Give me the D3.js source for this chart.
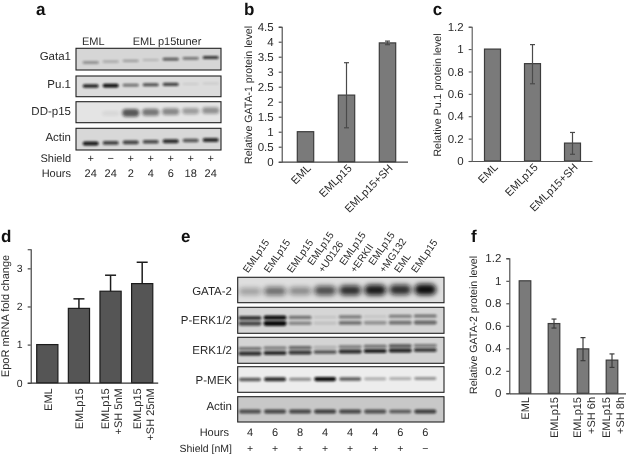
<!DOCTYPE html>
<html><head><meta charset="utf-8">
<script src="https://cdn.jsdelivr.net/npm/d3@7"></script>
<style>
html,body{margin:0;padding:0;background:#fff}
svg{display:block;filter:blur(0.35px)}
text{font-family:"Liberation Sans",Arial,sans-serif;fill:#2a2a2a;text-rendering:geometricPrecision}
</style></head><body>
<svg id="c" width="626" height="454"></svg>
<script>
// ---- data ----
const catsB = ["EML","EMLp15","EMLp15+SH"];
const valsB = [1,2.22,3.96];
const lowB  = [null,1.13,3.9];
const highB = [null,3.3,4.02];
const ticksB = [0,0.5,1,1.5,2,2.5,3,3.5,4,4.5];

const catsC = ["EML","EMLp15","EMLp15+SH"];
const valsC = [1,0.87,0.16];
const lowC  = [null,0.69,0.06];
const highC = [null,1.04,0.255];
const ticksC = [0,0.2,0.4,0.6,0.8,1,1.2];

const catsD = [["EML"],["EMLp15"],["EMLp15","+SH 5nM"],["EMLp15","+SH 25nM"]];
const valsD = [1,1.95,2.4,2.6];
const highD = [null,2.2,2.82,3.16];
const ticksD = [0,1,2,3];

const catsF = [["EML"],["EMLp15"],["EMLp15","+SH 6h"],["EMLp15","+SH 8h"]];
const valsF = [1,0.62,0.395,0.295];
const lowF  = [null,0.58,0.29,0.23];
const highF = [null,0.66,0.495,0.35];
const ticksF = [0,0.2,0.4,0.6,0.8,1,1.2];

const shieldA = ["+","\u2212","+","+","+","+","+"];
const hoursA  = ["24","24","2","4","6","18","24"];
const gata1A  = [0.4,0.25,0.3,0.18,0.65,0.5,0.8];
const pu1A    = [0.9,1,0.55,0.7,0.75,0.08,0.08];
const ddp15A  = [0,0.06,0.65,0.5,0.42,0.32,0.38];
const actinA  = [0.95,0.75,0.75,0.72,0.85,0.65,0.85];

const lanesE = [["EMLp15"],["EMLp15"],["EMLp15"],["EMLp15","+U0126"],["EMLp15","+ERKII"],["EMLp15","+MG132"],["EML"],["EMLp15"]];
const hoursE  = ["4","6","8","4","4","4","6","6"];
const shieldE = ["+","+","+","+","+","+","+","\u2212"];
const gata2E  = [0.3,0.55,0.42,0.7,0.85,0.95,0.85,1];
const perkTopE = [0.8,1,0.5,0.1,0.45,0.1,0.45,0.5];
const perkBotE = [0.7,1,0.4,0.12,0.5,0.35,0.5,0.55];
const erkTopE = [0.5,0.45,0.55,0.2,0.45,0.5,0.65,0.45];
const erkBotE = [0.85,0.85,0.8,0.65,0.85,0.9,0.9,0.75];
const pmekE   = [0.65,0.85,0.45,1,0.65,0.3,0.3,0.4];
const actinE  = [0.65,0.7,0.7,0.75,0.7,0.65,0.6,0.75];

// ---- drawing ----
const svg = d3.select("#c");
const defs = svg.append("defs");
[["b1",0.9],["b2",1.5],["b3",2.4]].forEach(([id,s])=>{
  defs.append("filter").attr("id",id).attr("x","-30%").attr("y","-150%").attr("width","160%").attr("height","400%")
    .append("feGaussianBlur").attr("stdDeviation",s);
});
const fs = 11;

function letter(t,x,y){svg.append("text").text(t).attr("x",x).attr("y",y).attr("font-size",17).attr("font-weight","bold").style("fill","#111");}

function barChart(o){
  const g = svg.append("g");
  const y = d3.scaleLinear().domain([0,o.yMax]).range([o.y0,o.y1]);
  const x = d3.scaleBand().domain(d3.range(o.vals.length)).range(o.xr).paddingInner(o.pad).paddingOuter(o.pad/2);
  const ax = d3.axisLeft(y).tickValues(o.ticks).tickSize(3).tickPadding(o.tp||5).tickFormat(d3.format("~g"));
  const ga = g.append("g").attr("transform",`translate(${o.ax},0)`).call(ax);
  ga.selectAll("path,line").attr("stroke",o.axisColor).attr("stroke-width",1.1);
  ga.selectAll("text").attr("font-size",o.tickFs||fs+0.5).style("fill","#2a2a2a");
  g.selectAll(".bar").data(o.vals).join("rect")
    .attr("x",(d,i)=>x(i)).attr("width",x.bandwidth())
    .attr("y",d=>y(d)).attr("height",d=>y(0)-y(d))
    .attr("fill",o.fill).attr("stroke",o.stroke).attr("stroke-width",1.2);
  // error bars
  o.vals.forEach((d,i)=>{
    const hi=o.high[i]; if(hi==null) return;
    const lo=o.low?o.low[i]:d, cx=x(i)+x.bandwidth()/2, w=o.cap;
    g.append("line").attr("x1",cx).attr("x2",cx).attr("y1",y(lo)).attr("y2",y(hi)).attr("stroke",o.errColor).attr("stroke-width",o.errW);
    g.append("line").attr("x1",cx-w).attr("x2",cx+w).attr("y1",y(hi)).attr("y2",y(hi)).attr("stroke",o.errColor).attr("stroke-width",o.errW);
    if(o.low) g.append("line").attr("x1",cx-w).attr("x2",cx+w).attr("y1",y(lo)).attr("y2",y(lo)).attr("stroke",o.errColor).attr("stroke-width",o.errW);
  });
  // x baseline
  const xb = d3.axisBottom(d3.scaleLinear().domain([0,1]).range([o.ax,o.axEnd])).tickValues([]).tickSize(0);
  const gb = g.append("g").attr("transform",`translate(0,${o.y0})`).call(xb);
  gb.select("path").attr("stroke",o.axisColor).attr("stroke-width",1.2);
  // category labels
  o.cats.forEach((c,i)=>{
    const cx=x(i)+x.bandwidth()/2;
    const lines=Array.isArray(c)?c:[c];
    const t=g.append("text").attr("font-size",fs).attr("text-anchor","end")
      .attr("transform",`translate(${cx+(o.lx||0)},${o.ly}) rotate(${o.rot})`);
    lines.forEach((l,j)=>{
      const off=(lines.length>1)?(j===0?-1.7:11.7):4.2;
      t.append("tspan").attr("x",0).attr("y",off).text(l);
    });
  });
  // y label
  svg.append("text").text(o.ylabel).attr("font-size",o.yfs||fs).attr("text-anchor","middle")
    .attr("transform",`translate(${o.ylx},${o.yly}) rotate(-90)`);
}

barChart({vals:valsB,high:highB,low:lowB,cats:catsB,ticks:ticksB,yMax:4.5,y0:161.7,y1:26.7,ax:281.7,axEnd:407.5,
  xr:[285,408],pad:0.6,fill:"#7a7a7a",stroke:"#3c3c3c",axisColor:"#444",errColor:"#4a4a4a",errW:1.2,cap:2.5,
  lx:3,ly:166,rot:-45,ylabel:"Relative GATA-1 protein level",ylx:252,yly:95,yfs:10.6});
barChart({vals:valsC,high:highC,low:lowC,cats:catsC,ticks:ticksC,yMax:1.2,y0:161,y1:26.7,ax:471.7,axEnd:592,
  xr:[472.5,592.5],pad:0.6,fill:"#7a7a7a",stroke:"#3c3c3c",axisColor:"#555",errColor:"#4a4a4a",errW:1.2,cap:2.5,
  lx:3,ly:165,rot:-45,ylabel:"Relative Pu.1 protein level",ylx:441,yly:95,yfs:10.6});
barChart({vals:valsD,high:highD,cats:catsD,ticks:ticksD,yMax:3.5,y0:382.7,y1:249.3,ax:30.7,axEnd:157.7,
  xr:[31.5,158],pad:0.33,fill:"#555",stroke:"#1c1c1c",axisColor:"#333",errColor:"#1c1c1c",errW:1.5,cap:5.5,
  ly:388.3,rot:-90,ylabel:"EpoR mRNA fold change",ylx:9,yly:316,tickFs:10.5});
barChart({vals:valsF,high:highF,low:lowF,cats:catsF,ticks:ticksF,yMax:1.2,y0:393.3,y1:258.3,ax:509.3,axEnd:625.7,
  xr:[510.5,626.5],pad:0.6,fill:"#7a7a7a",stroke:"#3c3c3c",axisColor:"#444",errColor:"#3c3c3c",errW:1.2,cap:2.5,
  ly:397,rot:-90,ylabel:"Relative GATA-2 protein level",ylx:477,yly:325,yfs:10.6});

// Western blot rows
let clipId=0;
function blot(o){
  const id="cp"+(clipId++);
  defs.append("clipPath").attr("id",id).append("rect").attr("x",o.x0).attr("y",o.y0).attr("width",o.x1-o.x0).attr("height",o.y1-o.y0);
  svg.append("rect").attr("x",o.x0).attr("y",o.y0).attr("width",o.x1-o.x0).attr("height",o.y1-o.y0).attr("fill",o.bg);
  const g=svg.append("g").attr("clip-path",`url(#${id})`);
  const x=o.lane;
  const n=o.bands[0].vals.length;
  o.bands.forEach(b=>{
    const yl=d3.scaleLinear().domain([0,n-1]).range([b.yA,b.yB]);
    const hs=d=>b.h*(0.65+0.7*d);
    g.selectAll(null).data(b.vals).join("rect")
      .attr("x",(d,i)=>x(i)-b.w/2).attr("width",b.w)
      .attr("y",(d,i)=>yl(i)-hs(d)/2).attr("height",hs)
      .attr("rx",d=>hs(d)/2).attr("fill","#0c0c0c").attr("opacity",d=>d)
      .attr("filter",`url(#${b.blur||"b1"})`);
  });
  svg.append("rect").attr("x",o.x0).attr("y",o.y0).attr("width",o.x1-o.x0).attr("height",o.y1-o.y0)
    .attr("fill","none").attr("stroke","#222").attr("stroke-width",1.1);
  svg.append("text").text(o.label).attr("x",o.lx).attr("y",o.ly).attr("text-anchor","end").attr("font-size",fs+0.5);
}
const laneA=d3.scalePoint().domain(d3.range(7)).range([90.7,210.7]);
const A={x0:76,x1:221,lane:laneA,lx:71};
blot({...A,y0:48.3,y1:70,bg:"#d6d6d6",label:"Gata1",ly:60,bands:[{vals:gata1A,yA:62.5,yB:57.5,w:16,h:2.6}]});
blot({...A,y0:76,y1:96.7,bg:"#dcdcdc",label:"Pu.1",ly:88,bands:[{vals:pu1A,yA:86,yB:83.5,w:16,h:2.8}]});
blot({...A,y0:101.7,y1:122.7,bg:"#e4e4e4",label:"DD-p15",ly:115,bands:[{vals:ddp15A,yA:114,yB:110.5,w:17,h:7,blur:"b2"}]});
blot({...A,y0:128.3,y1:150,bg:"#d8d8d8",label:"Actin",ly:141,bands:[{vals:actinA,yA:143.5,yB:140,w:16,h:3.2}]});
svg.append("text").text("EML").attr("x",82).attr("y",45).attr("font-size",fs);
svg.append("text").text("EML p15tuner").attr("x",132.7).attr("y",45).attr("font-size",fs);
function rowText(vals,x,yPos,label,lx,size){
  svg.append("text").text(label).attr("x",lx).attr("y",yPos).attr("text-anchor","end").attr("font-size",size);
  svg.selectAll(null).data(vals).join("text").text(d=>d).attr("x",(d,i)=>x(i)).attr("y",yPos).attr("text-anchor","middle").attr("font-size",size);
}
rowText(shieldA,laneA,162,"Shield",71,fs);
rowText(hoursA,laneA,177,"Hours",71,fs);

const laneE=d3.scalePoint().domain(d3.range(8)).range([250,425.3]);
const E={x0:237.7,x1:444,lane:laneE,lx:232};
blot({...E,y0:277.3,y1:302.7,bg:"#dedede",label:"GATA-2",ly:295,bands:[{vals:gata2E,yA:291.5,yB:289.5,w:22,h:8,blur:"b3"}]});
blot({...E,y0:307.3,y1:333.3,bg:"#d6d6d6",label:"P-ERK1/2",ly:324,bands:[{vals:perkTopE,yA:318,yB:316,w:23,h:3.2,blur:"b1"},{vals:perkBotE,yA:323.5,yB:322.5,w:23,h:3.8,blur:"b1"}]});
blot({...E,y0:337.3,y1:363.3,bg:"#d4d4d4",label:"ERK1/2",ly:354,bands:[{vals:erkTopE,yA:348.5,yB:345.5,w:23,h:3,blur:"b1"},{vals:erkBotE,yA:353.5,yB:350,w:23,h:3.2,blur:"b1"}]});
blot({...E,y0:366.7,y1:392.3,bg:"#ededed",label:"P-MEK",ly:383.5,bands:[{vals:pmekE,yA:379.5,yB:378.5,w:22,h:3.2,blur:"b1"}]});
blot({...E,y0:396.7,y1:422,bg:"#c8c8c8",label:"Actin",ly:410,bands:[{vals:actinE,yA:411.5,yB:411.5,w:22,h:3.4,blur:"b1"}]});
rowText(hoursE,laneE,436,"Hours",229,fs);
rowText(shieldE,laneE,452,"Shield [nM]",232,10.5);
const labelShift=[-2,-6,-8,-2,5,9,-1,-9];
lanesE.forEach((c,i)=>{
  const t=svg.append("text").attr("font-size",10.2)
    .attr("transform",`translate(${laneE(i)+labelShift[i]},273.5) rotate(-55)`);
  c.forEach((l,j)=>t.append("tspan").attr("x",0).attr("y",c.length>1?(j-1)*13:0).text(l));
});

letter("a",36,15);letter("b",244,15);letter("c",432.7,15);
letter("d",1,241.5);letter("e",181,241.5);letter("f",471,241.5);
</script></body></html>
